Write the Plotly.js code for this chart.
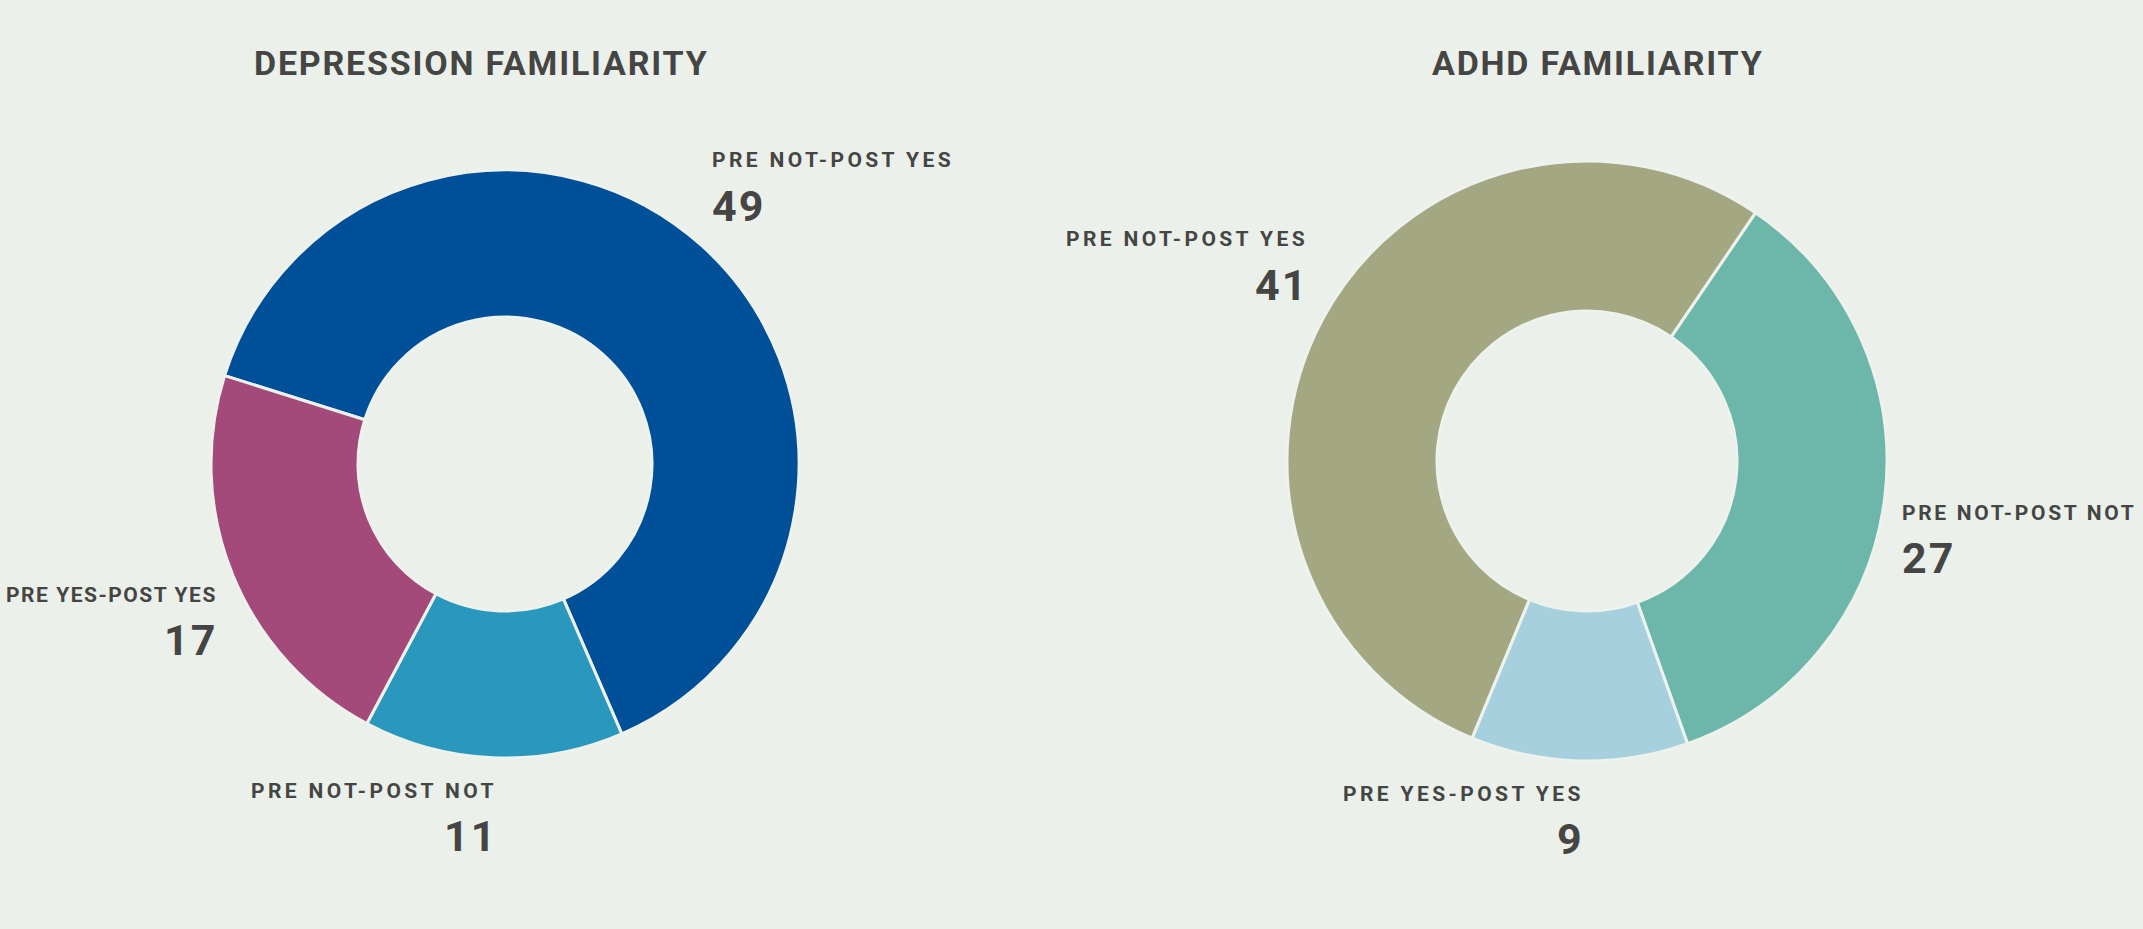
<!DOCTYPE html>
<html><head><meta charset="utf-8">
<script src="https://cdn.plot.ly/plotly-3.0.1.min.js"></script>
<style>html,body{margin:0;padding:0;background:#ebf0eb;}</style>
</head><body><div id="chart" style="width:2143px;height:929px;"></div>
<script>
// ---- data ----
const depLabels = ['PRE NOT-POST YES', 'PRE NOT-POST NOT', 'PRE YES-POST YES'];
const depValues = [49, 11, 17];
const depColors = ['#004f99', '#2a97bd', '#a34a7b'];

const adhdLabels = ['PRE NOT-POST YES', 'PRE NOT-POST NOT', 'PRE YES-POST YES'];
const adhdValues = [41, 27, 9];
const adhdColors = ['#a3a882', '#6db7aa', '#a7d0de'];

const chartTitles = ['DEPRESSION FAMILIARITY', 'ADHD FAMILIARITY'];

// ---- layout geometry ----
const W = 2143, H = 929;
const BG = '#ebf0eb';
const TXT = '#454543';
const FONT = 'Roboto, "Open Sans", sans-serif';
const LABEL_SIZE = 21, NUM_SIZE = 43;

const pies = [
  {labels: depLabels, values: depValues, colors: depColors, cx: 505, cy: 464, r: 294, rotation: -72.5, titleX: 481},
  {labels: adhdLabels, values: adhdValues, colors: adhdColors, cx: 1587, cy: 461, r: 300, rotation: -157.5, titleX: 1598}
];

const ctx = document.createElement('canvas').getContext('2d');
function textWidth(t, size) {
  ctx.font = '700 ' + size + 'px Roboto';
  return ctx.measureText(t).width;
}

const traces = [];
const annotations = [];

pies.forEach((p, k) => {
  traces.push({
    type: 'pie',
    labels: p.labels,
    values: p.values,
    sort: false,
    direction: 'clockwise',
    rotation: p.rotation,
    hole: 0.5,
    textinfo: 'none',
    marker: {colors: p.colors, line: {color: '#eef2ed', width: 3}},
    domain: {
      x: [(p.cx - p.r) / W, (p.cx + p.r) / W],
      y: [1 - (p.cy + p.r) / H, 1 - (p.cy - p.r) / H]
    },
    showlegend: false
  });

  annotations.push({
    xref: 'paper', yref: 'paper', x: p.titleX / W, y: 1 - 63 / H,
    xanchor: 'center', yanchor: 'middle', showarrow: false,
    text: '<span style="letter-spacing:1.8px">' + chartTitles[k] + '</span>',
    font: {family: FONT, size: 34, weight: 700, color: TXT}
  });

  const total = p.values.reduce((a, b) => a + b, 0);
  let cum = 0;
  p.values.forEach((v, i) => {
    const mid = (p.rotation + 360 * (cum + v / 2) / total) * Math.PI / 180;
    cum += v;
    const rr = p.r * 1.075;
    const right = Math.sin(mid) >= 0;
    const upper = Math.cos(mid) > 0;
    const xs = right ? -7 : 7;
    const px = p.cx + rr * Math.sin(mid);
    const py = p.cy - rr * Math.cos(mid);
    const ax = px + xs;
    const xa = right ? 'left' : 'right';
    const labShift = upper ? 69 : -11;
    const numShift = upper ? 23 : -56;

    // letter spacing, reduced if the label would run past the page edge
    const lab = p.labels[i];
    const base = textWidth(lab, LABEL_SIZE);
    let sp = 3.4;
    const avail = right ? (W - 8 - ax) : (ax - 8);
    if (base + lab.length * sp > avail) sp = Math.max(0, (avail - base) / lab.length);

    annotations.push({
      xref: 'paper', yref: 'paper', x: ax / W, y: 1 - py / H,
      xanchor: xa, yanchor: 'middle', align: xa, showarrow: false, yshift: labShift,
      text: '<span style="letter-spacing:' + sp.toFixed(2) + 'px">' + lab + '</span>',
      font: {family: FONT, size: LABEL_SIZE, weight: 700, color: TXT}
    });
    annotations.push({
      xref: 'paper', yref: 'paper', x: ax / W, y: 1 - py / H,
      xanchor: xa, yanchor: 'middle', align: xa, showarrow: false, yshift: numShift,
      text: '<span style="letter-spacing:2px">' + v + '</span>',
      font: {family: FONT, size: NUM_SIZE, weight: 700, color: TXT}
    });
  });
});

const layout = {
  width: W, height: H,
  margin: {l: 0, r: 0, t: 0, b: 0},
  paper_bgcolor: BG, plot_bgcolor: BG,
  showlegend: false,
  annotations: annotations
};

Plotly.newPlot('chart', traces, layout, {displayModeBar: false, staticPlot: true});
</script>
</body></html>
